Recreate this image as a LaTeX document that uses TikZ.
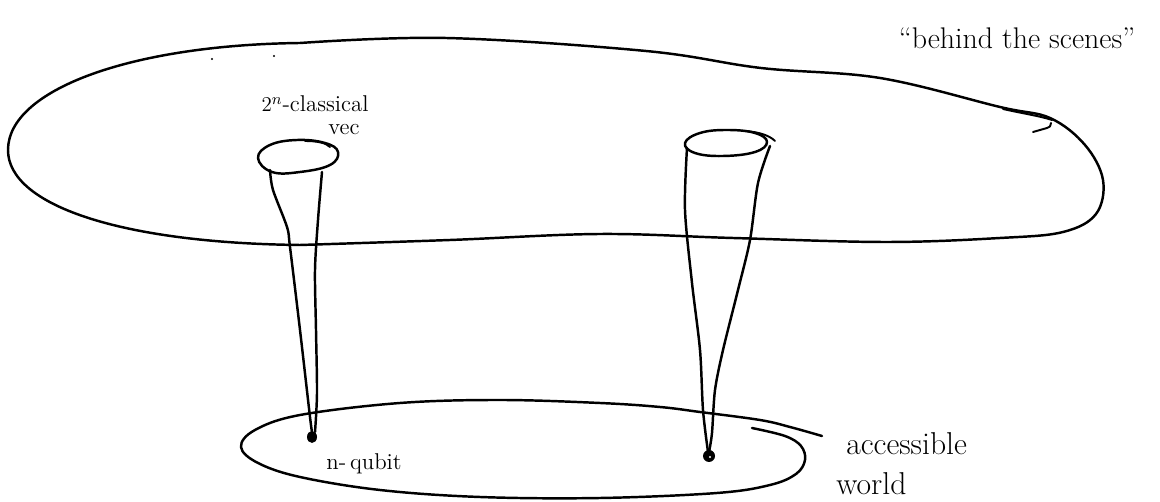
\documentclass[tikz,border=0pt]{standalone}
\usetikzlibrary{shapes.geometric}
\begin{document}
\begin{tikzpicture}[x=0.02cm,y=-0.02cm,
  ink/.style={line width=1.4pt, line cap=round, line join=round},
  thin ink/.style={line width=1.1pt, line cap=round, line join=round},
  bigtext/.style={inner sep=0pt, font=\fontsize{18}{21}\selectfont},
  toptext/.style={inner sep=0pt, font=\fontsize{17}{20}\selectfont},
  smalltext/.style={inner sep=0pt, font=\fontsize{13}{15}\selectfont}]
\useasboundingbox (0,0) rectangle (1160,502);

% "behind the scenes" world
\draw[ink] plot[smooth, tension=0.6] coordinates {
  (300,43) (446,38) (646,51) (761,68) (880,78) (1000,107) (1050,118)
  (1085,145) (1103,180) (1096,214) (1063,232) (1000,238) (886,242)
  (733,238) (600,234) (450,240) (300,245)}
  .. controls (120,243) and (8,205) .. (8,150)
  .. controls (8,90) and (130,45) .. (300,43);
\draw[thin ink] (1003,109) .. controls (1025,114) and (1040,116) .. (1052,120);
\draw[thin ink] (1033,132) -- (1047,128) .. controls (1050,127) .. (1051,123);
\fill (212,59) circle[radius=0.6pt];
\fill (274,56) circle[radius=0.6pt];

% accessible world
\draw[ink] plot[smooth, tension=0.6] coordinates {
  (752,428) (785,436) (801,446) (805,460) (796,474) (770,485) (717,493)
  (600,498) (480,497) (380,490) (300,477) (258,463) (241,447) (255,430)
  (300,415) (400,403) (500,400) (600,403) (660,407) (700,412) (760,420)
  (790,427) (822,436)};
\coordinate (ptr) at (822,436);

% left tube
\draw[ink] plot[smooth cycle, tension=0.7] coordinates {
  (258,158) (270,145) (297,140) (325,143) (338,152) (330,165) (300,172) (272,172)};
\draw[thin ink] (305,141) .. controls (318,141) and (326,143) .. (330,147);
\draw[ink] plot[smooth] coordinates {
  (270,170) (273,190) (287,227) (290,247) (300,330) (310,417) (312,432)};
\draw[ink] plot[smooth] coordinates {
  (322,172) (318,220) (315,270) (316,330) (317,393) (315,432)};
\node[ellipse, fill, inner sep=0pt, minimum width=0.2cm, minimum height=0.24cm] (qubit) at (312,437) {};

% right tube
\draw[ink] plot[smooth cycle, tension=0.7] coordinates {
  (685,143) (700,133) (727,130) (755,133) (767,142) (755,152) (723,156) (695,153)};
\draw[thin ink] (745,131) .. controls (760,132) and (770,136) .. (775,141);
\draw[ink] plot[smooth] coordinates {
  (687,148) (685,210) (692,283) (700,350) (703,410) (708,452)};
\draw[ink] plot[smooth] coordinates {
  (770,146) (758,183) (750,240) (738,290) (723,350) (715,390) (712,433) (709,452)};
\node[circle, fill, inner sep=0pt, minimum size=0.24cm] (rdot) at (709,456) {};
\fill[white] (710,457) circle[radius=0.6pt];

% labels
\node[toptext] (scenes) at (1017,38) {``behind the scenes''};
\node[smalltext, anchor=base] (classical) at (315,112) {$2^n$-classical};
\node[smalltext, anchor=base] (vec) at (344,135) {vec};
\node[smalltext] (nq) at (364,464) {n-\,qubit};
\node[bigtext, anchor=base west] (acc) at (846,455) {accessible};
\node[bigtext, anchor=base west] (world) at (836,495) {world};
\end{tikzpicture}
\end{document}
